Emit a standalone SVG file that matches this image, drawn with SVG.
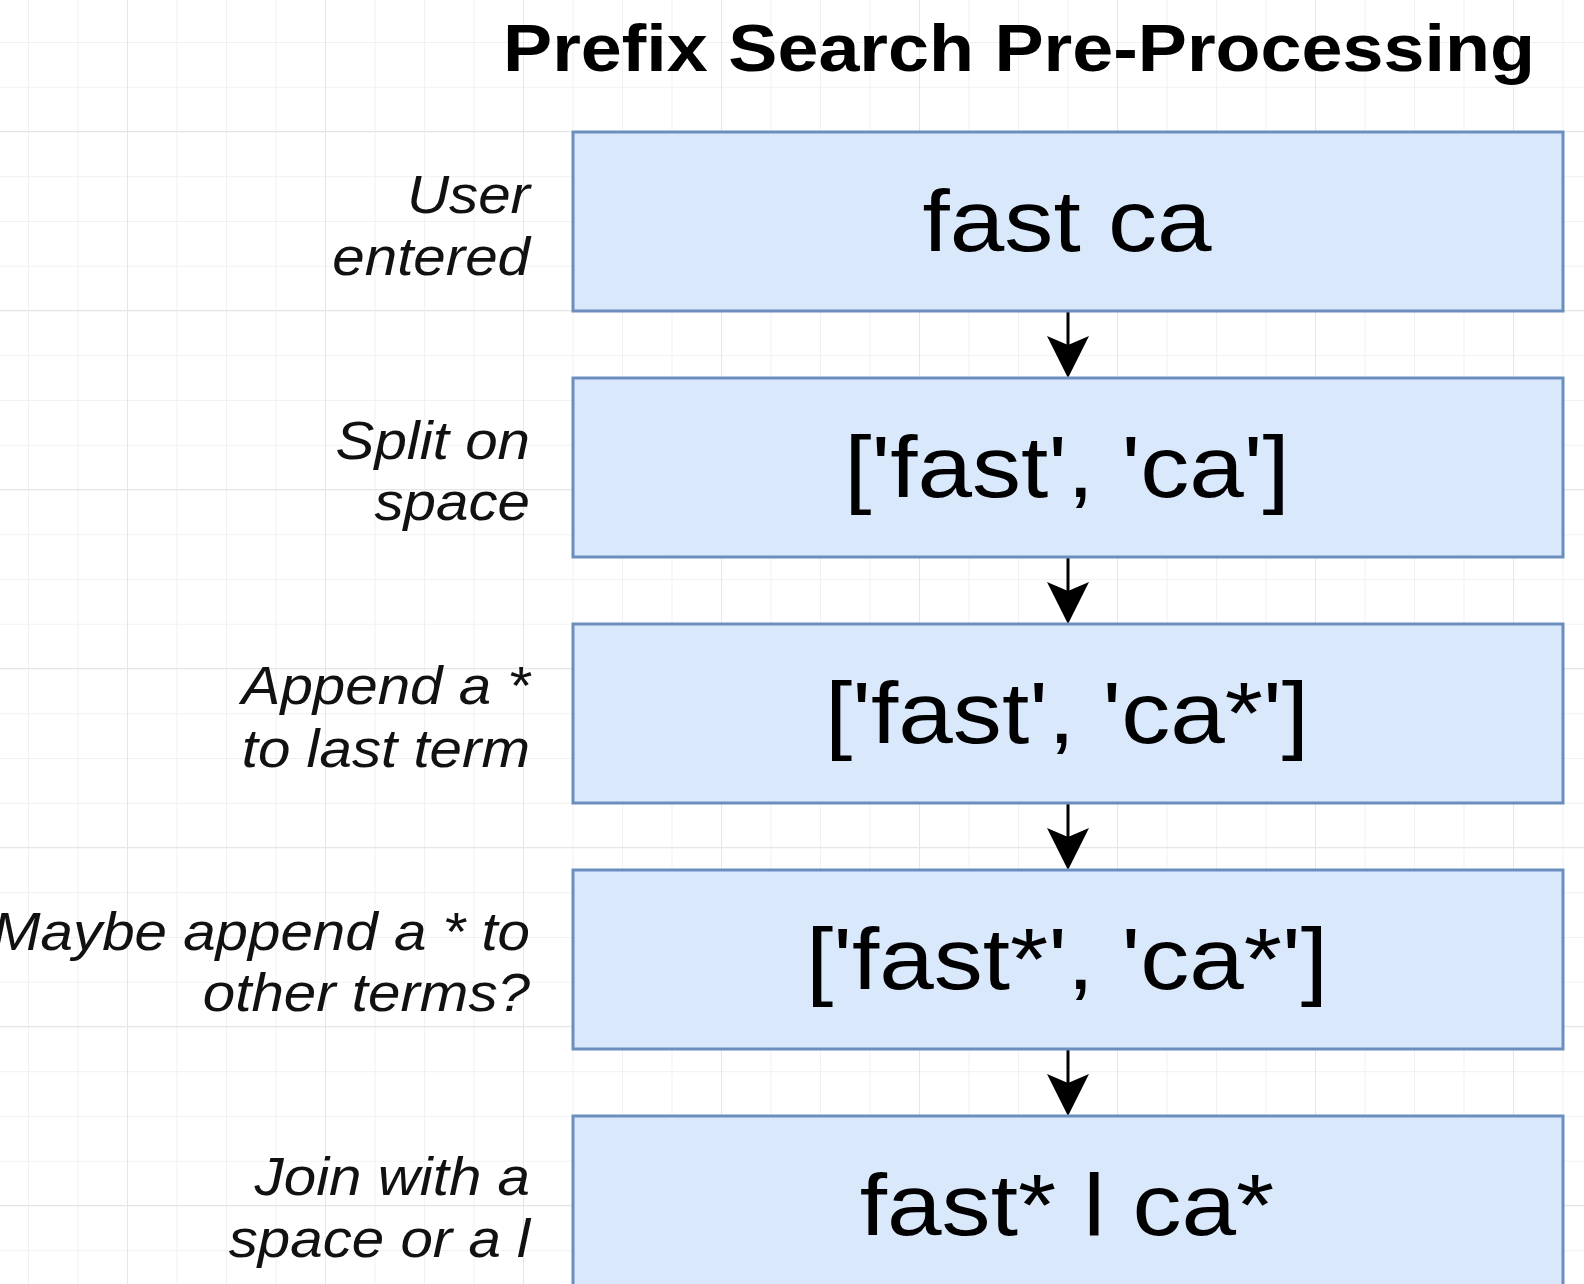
<svg xmlns="http://www.w3.org/2000/svg" width="1584" height="1284" viewBox="0 0 1584 1284">
  <style>
    .box { fill: #dae8fc; stroke: #6c8ebf; stroke-width: 3; }
    .val { font-family: "Liberation Sans", Arial, Helvetica, sans-serif; font-size: 88px; fill: #000; text-anchor: middle; }
    .lbl { font-family: "Liberation Sans", Arial, Helvetica, sans-serif; font-size: 53px; font-style: italic; fill: #111; text-anchor: end; }
    .ttl { font-family: "Liberation Sans", Arial, Helvetica, sans-serif; font-size: 67px; font-weight: bold; fill: #000; text-anchor: middle; }
    .edge { fill: none; stroke: #000; stroke-width: 3; }
  </style>
  <defs>
    <pattern id="minor" patternUnits="userSpaceOnUse" x="572.5" y="131.5" width="49.5" height="44.75">
      <rect x="0" y="0" width="49.5" height="1" fill="#f1f1f1"/>
      <rect x="0" y="0" width="1" height="44.75" fill="#f1f1f1"/>
    </pattern>
    <pattern id="major" patternUnits="userSpaceOnUse" x="325" y="131" width="198" height="179">
      <rect x="0" y="0" width="198" height="1" fill="#e6e6e6"/>
      <rect x="0" y="0" width="1" height="179" fill="#e6e6e6"/>
    </pattern>
    <marker id="arrow" viewBox="0 0 42 42" refX="34" refY="21" markerWidth="42" markerHeight="42" markerUnits="userSpaceOnUse" orient="auto">
      <path d="M0,0 L42,21 L0,42 L9,21 Z" fill="#000"/>
    </marker>
  </defs>

  <g id="background">
    <rect x="0" y="0" width="1584" height="1284" fill="#ffffff"/>
    <rect x="0" y="0" width="1584" height="1284" fill="url(#minor)"/>
    <rect x="0" y="0" width="1584" height="1284" fill="url(#major)"/>
  </g>

  <g id="title">
    <text class="ttl" transform="translate(1019,71) scale(1.1,1)" x="0" y="0">Prefix Search Pre-Processing</text>
  </g>

  <g id="connectors">
    <path class="edge" d="M1068,311 V370" marker-end="url(#arrow)"/>
    <path class="edge" d="M1068,557 V616" marker-end="url(#arrow)"/>
    <path class="edge" d="M1068,803 V862" marker-end="url(#arrow)"/>
    <path class="edge" d="M1068,1049 V1108" marker-end="url(#arrow)"/>
  </g>

  <g id="node-1">
    <rect class="box" x="573" y="132" width="990" height="179"/>
    <text class="val" transform="translate(1067,251) scale(1.115,1)" x="0" y="0">fast ca</text>
  </g>
  <g id="node-2">
    <rect class="box" x="573" y="378" width="990" height="179"/>
    <text class="val" transform="translate(1067,497) scale(1.115,1)" x="0" y="0">['fast', 'ca']</text>
  </g>
  <g id="node-3">
    <rect class="box" x="573" y="624" width="990" height="179"/>
    <text class="val" transform="translate(1067,743) scale(1.115,1)" x="0" y="0">['fast', 'ca*']</text>
  </g>
  <g id="node-4">
    <rect class="box" x="573" y="870" width="990" height="179"/>
    <text class="val" transform="translate(1067,989) scale(1.115,1)" x="0" y="0">['fast*', 'ca*']</text>
  </g>
  <g id="node-5">
    <rect class="box" x="573" y="1116" width="990" height="179"/>
    <text class="val" transform="translate(1067,1235) scale(1.115,1)" x="0" y="0">fast* l ca*</text>
  </g>

  <g id="label-1">
    <text class="lbl" transform="translate(530,213) scale(1.1,1)" x="0" y="0">User</text>
    <text class="lbl" transform="translate(530,275) scale(1.1,1)" x="0" y="0">entered</text>
  </g>
  <g id="label-2">
    <text class="lbl" transform="translate(530,459) scale(1.1,1)" x="0" y="0">Split on</text>
    <text class="lbl" transform="translate(530,520) scale(1.1,1)" x="0" y="0">space</text>
  </g>
  <g id="label-3">
    <text class="lbl" transform="translate(530,704) scale(1.1,1)" x="0" y="0">Append a *</text>
    <text class="lbl" transform="translate(530,767) scale(1.1,1)" x="0" y="0">to last term</text>
  </g>
  <g id="label-4">
    <text class="lbl" transform="translate(530,950) scale(1.1,1)" x="0" y="0">Maybe append a * to</text>
    <text class="lbl" transform="translate(530,1011) scale(1.1,1)" x="0" y="0">other terms?</text>
  </g>
  <g id="label-5">
    <text class="lbl" transform="translate(530,1195) scale(1.1,1)" x="0" y="0">Join with a</text>
    <text class="lbl" transform="translate(530,1257) scale(1.1,1)" x="0" y="0">space or a l</text>
  </g>
</svg>
